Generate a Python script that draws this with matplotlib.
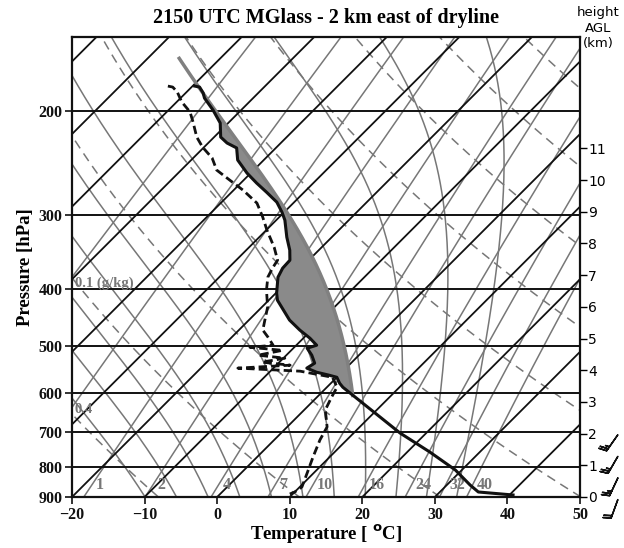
import numpy as np
import matplotlib
matplotlib.use('Agg')
import matplotlib.pyplot as plt

# --- sounding (pressure hPa, temperature degC) ---
pres_t = [181.6, 182.3, 186.5, 190.3, 199.3, 209.7, 221.5, 226.7, 231.1, 242.2,
          254.9, 265.0, 274.5, 285.4, 296.8, 306.2, 327.1, 344.1, 357.8, 369.1,
          382.3, 406.7, 418.2, 451.8, 469.8, 484.8, 498.3, 504.1, 518.0, 534.4,
          544.8, 553.5, 560.2, 564.6, 577.8, 586.9, 701.6, 755.3, 810.1, 858.9,
          882.6, 893.0]
temp = [-59.7, -58.9, -57.6, -56.7, -53.9, -51.1, -49.1, -47.4, -45.4, -43.6,
        -40.5, -37.8, -35.2, -32.4, -30.3, -28.8, -26.2, -24.0, -22.6, -22.5,
        -21.9, -19.9, -18.8, -14.4, -11.6, -9.1, -7.2, -8.1, -6.5, -5.0,
        -5.4, -3.5, -1.3, 0.0, 1.2, 2.2, 16.4, 23.1, 29.1, 33.2,
        35.3, 40.5]

pres_td = [181.6, 182.3, 185.8, 193.2, 200.8, 208.8, 221.5, 230.4, 240.3, 251.9,
           262.0, 272.4, 286.5, 302.4, 318.3, 340.6, 357.8, 369.1, 382.3, 402.1,
           429.6, 451.8, 469.8, 483.0, 498.3, 502.4, 508.3, 518.0, 524.1, 532.3,
           538.6, 544.8, 551.3, 564.6, 586.9, 609.6, 640.9, 685.1, 720.5, 770.1,
           819.7, 865.6, 882.6, 889.6]
dewp = [-63.4, -62.6, -61.3, -59.3, -56.8, -55.0, -52.4, -50.2, -47.4, -45.1,
        -41.9, -38.7, -35.0, -32.3, -29.9, -26.5, -24.3, -23.9, -23.3, -21.7,
        -19.2, -17.8, -16.7, -15.0, -13.2, -16.1, -11.2, -13.9, -9.8, -12.4,
        -8.1, -14.9, -5.9, -0.6, 1.4, 2.0, 2.9, 5.5, 6.3, 7.7,
        9.1, 10.3, 10.0, 9.6]

# low-level winds (kt, direction from), top to bottom
wind_spd = [25, 25, 25, 20]
wind_dir = [215, 210, 205, 200]

# --- diagram background ---
isobars = [200, 300, 400, 500, 600, 700, 800, 900]
isotherms = np.arange(-110, 60, 10)
theta_lines = np.arange(-40, 200, 20)          # dry adiabats, degC at 1000 hPa
theta_w_lines = [-4, 0, 4, 8, 12, 16, 20, 24, 28, 32, 36]
mixing_ratios = [0.1, 0.4, 1, 2, 4, 7, 10, 16, 24, 32, 40]
mr_labels = ['1', '2', '4', '7', '10', '16', '24', '32', '40']
height_km = list(range(12))
scale_height = 8.1
mixed_depth = 100.0   # hPa, depth of the lifted layer

P_BOT, P_TOP = 900.0, 150.0
SKEW = 35.37
RD, CP, LV, EPS = 287.04, 1005.7, 2.501e6, 0.622
KAPPA = RD / CP


def skew_x(t, p):
    return np.asarray(t) + SKEW * np.log(P_BOT / np.asarray(p))


def sat_vp(tc):
    return 6.112 * np.exp(17.67 * tc / (tc + 243.5))


def dewpoint_from_e(e):
    a = np.log(e / 6.112)
    return 243.5 * a / (17.67 - a)


def moist_dtdp(tk, p):
    es = sat_vp(tk - 273.15)
    rs = EPS * es / (p - es)
    return (RD * tk + LV * rs) / (p * (CP + LV * LV * rs * EPS / (RD * tk * tk)))


def moist_adiabat(t_start, p_start, p_levels):
    tk = t_start + 273.15
    out = []
    p_prev = p_start
    for p in p_levels:
        dp = p - p_prev
        k1 = moist_dtdp(tk, p_prev)
        k2 = moist_dtdp(tk + k1 * dp, p)
        tk = tk + 0.5 * (k1 + k2) * dp
        p_prev = p
        out.append(tk - 273.15)
    return np.array(out)


serif = 'Liberation Serif'
black = '#111111'
gray = '#777777'

fig = plt.figure(figsize=(6.24, 5.48), dpi=100)
ax = fig.add_axes([72 / 624, 51 / 548, 508 / 624, 460 / 548])
ax.set_yscale('log')
ax.set_xlim(-20, 50)
ax.set_ylim(P_BOT, P_TOP)

p_grid = np.geomspace(P_BOT, P_TOP, 200)

# mixing ratio lines
for w in mixing_ratios:
    e = w * p_grid / (622.0 + w)
    ax.plot(skew_x(dewpoint_from_e(e), p_grid), p_grid, color=gray, lw=1.1, zorder=2)

# dry adiabats
for th in theta_lines:
    t = (th + 273.15) * (p_grid / 1000.0) ** KAPPA - 273.15
    ax.plot(skew_x(t, p_grid), p_grid, color=gray, lw=1.1, ls=(0, (6, 4)), zorder=2)

# moist adiabats
p_moist = np.linspace(1000, P_TOP, 600)
for tw in theta_w_lines:
    t = moist_adiabat(tw, 1000.0, p_moist)
    ax.plot(skew_x(t, p_moist), p_moist, color=gray, lw=1.1, zorder=2)

# isotherms and isobars
for t0 in isotherms:
    ax.plot(skew_x(np.full_like(p_grid, t0), p_grid), p_grid, color=black, lw=1.3, zorder=3)
for p in isobars:
    ax.axhline(p, color=black, lw=1.4, zorder=3)

# mixed-layer parcel: mean theta and mixing ratio of the lowest layer
p_sfc = pres_t[-1]
p_ml = np.linspace(p_sfc - mixed_depth, p_sfc, 60)
t_ml = np.interp(p_ml, pres_t, temp)
td_ml = np.interp(p_ml, pres_td, dewp)
theta_ml = np.mean((t_ml + 273.15) * (1000.0 / p_ml) ** KAPPA)
w_ml = np.mean(EPS * sat_vp(td_ml) / (p_ml - sat_vp(td_ml)))
p_dry = np.linspace(p_sfc, 400, 3000)
t_dry = theta_ml * (p_dry / 1000.0) ** KAPPA - 273.15
rs_dry = EPS * sat_vp(t_dry) / (p_dry - sat_vp(t_dry))
i_lcl = np.argmax(rs_dry <= w_ml)
p_lcl, t_lcl = p_dry[i_lcl], t_dry[i_lcl]
p_parcel = np.linspace(p_lcl, 163, 400)
t_parcel = moist_adiabat(t_lcl, p_lcl, p_parcel)
x_parcel = skew_x(t_parcel, p_parcel)

x_env = np.interp(p_parcel[::-1], pres_t, skew_x(temp, pres_t))[::-1]
ax.fill_betweenx(p_parcel, x_env, x_parcel, where=x_parcel > x_env,
                 color='#8a8a8a', lw=0, zorder=4, interpolate=True)
ax.plot(x_parcel, p_parcel, color='#808080', lw=2.5, zorder=4)

# sounding
ax.plot(skew_x(temp, pres_t), pres_t, color=black, lw=2.2, zorder=6)
ax.plot(skew_x(dewp, pres_td), pres_td, color=black, lw=2.0, ls=(0, (3, 1.5)), zorder=6)

# mixing ratio labels
for w, lab in zip(mixing_ratios[2:], mr_labels):
    e = w * 859.0 / (622.0 + w)
    xl = skew_x(dewpoint_from_e(e), 859.0)
    ax.annotate(lab, (xl, 859.0), xytext=(3, 0), textcoords='offset points',
                ha='left', va='center', color=gray, fontsize=11.5,
                fontweight='bold', family=serif, zorder=5)
ax.text(-19.6, 392, '0.1 (g/kg)', color=gray, fontsize=10.5, fontweight='bold',
        family=serif, ha='left', va='center', zorder=5)
ax.text(-19.6, 641, '0.4', color=gray, fontsize=10.5, fontweight='bold',
        family=serif, ha='left', va='center', zorder=5)

# axes styling
ax.set_yticks(isobars)
ax.set_yticklabels([str(p) for p in isobars])
ax.yaxis.set_minor_locator(matplotlib.ticker.NullLocator())
ax.set_xticks(np.arange(-20, 60, 10))
for lab in ax.get_xticklabels() + ax.get_yticklabels():
    lab.set_family(serif)
    lab.set_fontweight('bold')
    lab.set_fontsize(11.5)
ax.tick_params(direction='out', length=5, width=1.2, colors=black, pad=2)
for s in ax.spines.values():
    s.set_linewidth(1.6)
    s.set_color(black)
ax.set_xlabel('Temperature [ $^{\\mathbf{o}}$C]', family=serif, fontweight='bold',
              fontsize=13.5, labelpad=0)
ax.set_ylabel('Pressure [hPa]', family=serif, fontweight='bold', fontsize=13.5, labelpad=3)
ax.set_title('2150 UTC MGlass - 2 km east of dryline', family=serif,
             fontweight='bold', fontsize=14.5, pad=10)

# height scale on the right
axh = ax.twinx()
axh.set_yscale('log')
axh.set_ylim(P_BOT, P_TOP)
axh.set_yticks([P_BOT * np.exp(-h / scale_height) for h in height_km])
axh.set_yticklabels([str(h) for h in height_km])
axh.yaxis.set_minor_locator(matplotlib.ticker.NullLocator())
axh.tick_params(direction='out', length=5, width=1.0, labelsize=10, pad=1)
for s in axh.spines.values():
    s.set_visible(False)
fig.text(598 / 624, 1 - 28 / 548, 'height\nAGL\n(km)', ha='center', va='center',
         fontsize=9.5, linespacing=1.25)

# wind barbs beside the height scale
axb = fig.add_axes([596 / 624, 25 / 548, 28 / 624, 90 / 548])
axb.set_xlim(0, 1)
axb.set_ylim(0, 1)
axb.axis('off')
rad = np.deg2rad(wind_dir)
u = -np.array(wind_spd) * np.sin(rad)
v = -np.array(wind_spd) * np.cos(rad)
yb = [0.98, 0.74, 0.50, 0.26]
axb.barbs([0.78] * 4, yb, u, v, length=5.3, linewidth=1.1, color=black,
          pivot='tip', clip_on=False)

fig.savefig('out.png', dpi=100)
